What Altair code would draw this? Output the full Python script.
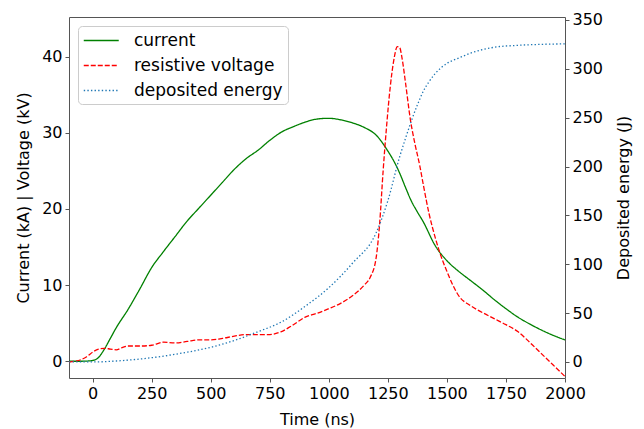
import altair as alt
import pandas as pd

# ---- data ----
t_current = [-100, -50, 0, 25, 50, 75, 100, 150, 200, 250, 300, 350, 400, 450, 500,
             550, 600, 650, 700, 750, 800, 850, 900, 950, 1000, 1050, 1100, 1150,
             1200, 1250, 1275, 1300, 1325, 1350, 1375, 1400, 1450, 1500, 1550, 1600,
             1650, 1700, 1750, 1800, 1850, 1900, 1950, 2000]
current = [0.0, 0.0, 0.1, 0.5, 1.6, 3.0, 4.4, 6.8, 9.5, 12.3, 14.4, 16.4, 18.4, 20.1,
           21.8, 23.5, 25.2, 26.6, 27.7, 29.0, 30.1, 30.8, 31.4, 31.8, 31.9, 31.7,
           31.3, 30.7, 29.7, 27.6, 26.3, 24.7, 22.8, 21.0, 19.6, 18.3, 15.2, 13.2,
           11.8, 10.6, 9.4, 8.1, 6.9, 5.8, 4.9, 4.1, 3.4, 2.8]

t_voltage = [-100, -75, -50, -25, 0, 25, 50, 75, 100, 125, 150, 200, 250, 300, 350,
             400, 450, 500, 550, 600, 650, 700, 750, 800, 850, 900, 950, 1000, 1050,
             1100, 1150, 1175, 1200, 1215, 1230, 1245, 1260, 1275, 1290, 1300, 1310,
             1325, 1345, 1365, 1385, 1400, 1425, 1450, 1475, 1500, 1525, 1550, 1600,
             1650, 1700, 1750, 1800, 1850, 1900, 1950, 2000]
voltage = [-0.1, 0.0, 0.2, 0.6, 1.2, 1.6, 1.7, 1.6, 1.5, 1.8, 2.0, 2.0, 2.1, 2.5, 2.4,
           2.6, 2.8, 2.8, 3.0, 3.3, 3.5, 3.5, 3.5, 3.9, 4.8, 5.8, 6.3, 6.9, 7.6,
           8.6, 10.0, 11.0, 13.5, 18.0, 25.0, 31.0, 36.0, 39.5, 41.3, 41.2, 39.8,
           36.5, 31.8, 28.5, 25.7, 23.2, 19.3, 16.3, 13.8, 11.8, 10.0, 8.6, 7.3,
           6.4, 5.6, 4.8, 3.9, 2.5, 1.0, -0.5, -2.0]

t_energy = [-100, 0, 100, 200, 300, 400, 500, 600, 700, 800, 900, 1000, 1100, 1200,
            1250, 1300, 1325, 1350, 1375, 1400, 1425, 1450, 1475, 1500, 1550, 1600,
            1700, 1800, 1900, 2000]
energy = [0, 0, 1, 3, 6, 10, 15, 22, 31, 41, 57, 76, 101, 132, 165, 210, 229, 247,
          263, 277, 287, 295, 301, 305.5, 311, 316, 322, 324, 325, 325.5]

series_names = ["current", "resistive voltage", "deposited energy"]
series_colors = ["#008000", "#ff0000", "#1f77b4"]
series_dashes = [[1, 0], [5, 2], [1.4, 2.2]]

x_ticks = [0, 250, 500, 750, 1000, 1250, 1500, 1750, 2000]
left_ticks = [0, 10, 20, 30, 40]
right_ticks = [0, 50, 100, 150, 200, 250, 300, 350]

rows = []
for t, v in zip(t_current, current):
    rows.append({"t": t, "value": v, "series": "current"})
for t, v in zip(t_voltage, voltage):
    rows.append({"t": t, "value": v, "series": "resistive voltage"})
for t, v in zip(t_energy, energy):
    rows.append({"t": t, "value": v, "series": "deposited energy"})
df = pd.DataFrame(rows)

FONT = "DejaVu Sans"

legend = alt.Legend(
    title=None, orient="top-left", offset=9, symbolType="M-1,0H3",
    symbolSize=306, symbolStrokeWidth=1.3, labelFontSize=17, labelFont=FONT,
    labelColor="black", labelOffset=32, rowPadding=7, padding=5,
    fillColor="white", strokeColor="#cccccc", cornerRadius=4,
)

x_enc = alt.X("t:Q", scale=alt.Scale(domain=[-100, 2000], nice=False, zero=False),
              axis=alt.Axis(values=x_ticks, title="Time (ns)", titlePadding=10,
                            format="d", labelOverlap=False, labelFlush=False))
color_enc = alt.Color("series:N", scale=alt.Scale(domain=series_names, range=series_colors),
                      sort=series_names, legend=legend)
dash_enc = alt.StrokeDash("series:N", scale=alt.Scale(domain=series_names, range=series_dashes),
                          sort=series_names, legend=legend)

base = alt.Chart(df).mark_line(strokeWidth=1.3, interpolate="monotone")

left = base.transform_filter(
    alt.datum.series != "deposited energy"
).encode(
    x=x_enc,
    y=alt.Y("value:Q", scale=alt.Scale(domain=[-2.2, 45.2], nice=False, zero=False),
            axis=alt.Axis(values=left_ticks, title="Current (kA) | Voltage (kV)",
                          orient="left", titlePadding=10)),
    color=color_enc,
    strokeDash=dash_enc,
)

right = base.transform_filter(
    alt.datum.series == "deposited energy"
).encode(
    x=x_enc,
    y=alt.Y("value:Q", scale=alt.Scale(domain=[-16.4, 353], nice=False, zero=False),
            axis=alt.Axis(values=right_ticks, title="Deposited energy (J)",
                          orient="right", titlePadding=13, titleAngle=270,
                          titleBaseline="top")),
    color=color_enc,
    strokeDash=dash_enc,
)

chart = alt.layer(left, right).resolve_scale(y="independent").properties(
    width=496, height=361,
    autosize=alt.AutoSizeParams(type="none"),
    padding={"left": 61, "top": 9, "right": 70, "bottom": 51},
).configure_view(
    stroke="#555555", strokeWidth=1
).configure_axis(
    grid=False, domain=False, labelFont=FONT, titleFont=FONT, labelFontSize=16,
    titleFontSize=16, titleFontWeight="normal", labelColor="black", titleColor="black",
    tickColor="#555555", tickSize=4, labelPadding=3,
)

chart.save("out.html", embed_options={"renderer": "svg", "actions": False})
